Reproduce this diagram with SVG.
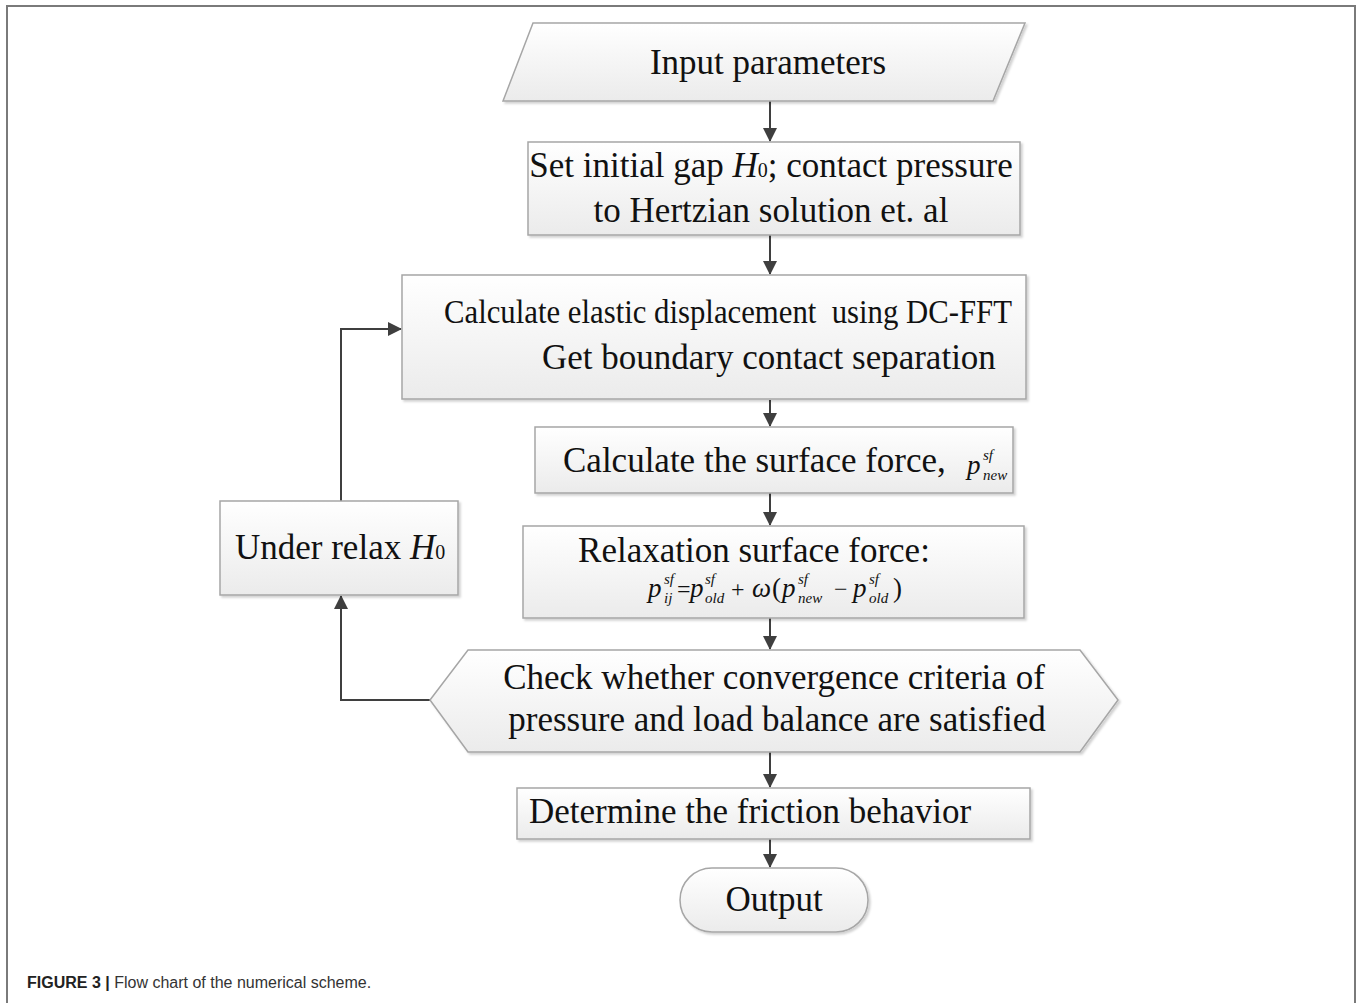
<svg xmlns="http://www.w3.org/2000/svg" width="1357" height="1003" viewBox="0 0 1357 1003">
<defs>
<linearGradient id="g" x1="0" y1="0" x2="0" y2="1">
<stop offset="0" stop-color="#ffffff"/>
<stop offset="1" stop-color="#ebebeb"/>
</linearGradient>
<marker id="ah" markerWidth="14" markerHeight="14" refX="13" refY="7" orient="auto" markerUnits="userSpaceOnUse">
<path d="M0,0 L14,7 L0,14 Z" fill="#3f3f3f"/>
</marker>
<filter id="sh" x="-5%" y="-5%" width="110%" height="120%">
<feDropShadow dx="2" dy="2" stdDeviation="1.2" flood-color="#000" flood-opacity="0.18"/>
</filter>
</defs>
<style>
.n{fill:url(#g);stroke:#a6a6a6;stroke-width:1.5;filter:url(#sh)}
.t{font-family:"Liberation Serif","Times New Roman",serif;font-size:35px;fill:#111}
.c{text-anchor:middle}
.i{font-style:italic}
.s{font-family:"Liberation Serif","Times New Roman",serif;font-style:italic;font-size:15px;fill:#111}
.m{font-family:"Liberation Serif","Times New Roman",serif;font-size:27px;fill:#111}
.o{font-family:"Liberation Serif","Times New Roman",serif;font-size:24px;fill:#111}
.e{stroke:#3f3f3f;stroke-width:2;fill:none}
.cap{font-family:"Liberation Sans",Arial,sans-serif;font-size:16px;fill:#333}
</style>
<rect width="1357" height="1003" fill="#fff"/>
<path d="M7,1003 V6 H1355 V1003" fill="none" stroke="#7a7a7a" stroke-width="2"/>

<g id="connectors">
<path class="e" d="M770,101 V141" marker-end="url(#ah)"/>
<path class="e" d="M770,235 V274" marker-end="url(#ah)"/>
<path class="e" d="M770,400 V426" marker-end="url(#ah)"/>
<path class="e" d="M770,493 V525" marker-end="url(#ah)"/>
<path class="e" d="M770,618 V649" marker-end="url(#ah)"/>
<path class="e" d="M770,752 V787" marker-end="url(#ah)"/>
<path class="e" d="M770,839 V867" marker-end="url(#ah)"/>
<path class="e" d="M430,700 H341 V596" marker-end="url(#ah)"/>
<path class="e" d="M341,501 V329 H401" marker-end="url(#ah)"/>
</g>

<g id="input">
<polygon class="n" points="533,23 1025,23 993,101 503,101"/>
<text class="t c" x="768" y="74">Input parameters</text>
</g>

<g id="init">
<rect class="n" x="528" y="142" width="492" height="93"/>
<text class="t c" x="771" y="177">Set initial gap <tspan class="i">H</tspan><tspan font-size="20">0</tspan>; contact pressure</text>
<text class="t c" x="771" y="222">to Hertzian solution et. al</text>
</g>

<g id="elastic">
<rect class="n" x="402" y="275" width="624" height="124"/>
<text class="t" x="444" y="323" style="font-size:34px" textLength="568" lengthAdjust="spacingAndGlyphs" xml:space="preserve">Calculate elastic displacement  using DC-FFT</text>
<text class="t" x="542" y="369">Get boundary contact separation</text>
</g>

<g id="surface">
<rect class="n" x="535" y="427" width="478" height="66"/>
<text class="t" x="563" y="472">Calculate the surface force,</text>
<text class="m i" x="967" y="474">p</text>
<text class="s" x="983" y="460">sf</text>
<text class="s" x="983" y="480">new</text>
</g>

<g id="relaxation">
<rect class="n" x="523" y="526" width="501" height="92"/>
<text class="t c" x="754" y="562">Relaxation surface force:</text>
<text class="m i" x="648" y="597">p</text>
<text class="s" x="664" y="584">sf</text>
<text class="s" x="664" y="603">ij</text>
<text class="o" x="677" y="597">=</text>
<text class="m i" x="690" y="597">p</text>
<text class="s" x="705" y="584">sf</text>
<text class="s" x="705" y="603">old</text>
<text class="o" x="731" y="597">+</text>
<text class="m i" x="752" y="597">ω</text>
<text class="m" x="772" y="597">(</text>
<text class="m i" x="782" y="597">p</text>
<text class="s" x="798" y="584">sf</text>
<text class="s" x="798" y="603">new</text>
<text class="o" x="834" y="597">−</text>
<text class="m i" x="853" y="597">p</text>
<text class="s" x="869" y="584">sf</text>
<text class="s" x="869" y="603">old</text>
<text class="m" x="893" y="597">)</text>
</g>

<g id="underrelax">
<rect class="n" x="220" y="501" width="238" height="94"/>
<text class="t" x="235" y="559">Under relax <tspan class="i">H</tspan><tspan font-size="20">0</tspan></text>
</g>

<g id="check">
<polygon class="n" points="430,700 468,650 1080,650 1118,700 1080,752 468,752"/>
<text class="t c" x="774" y="689">Check whether convergence criteria of</text>
<text class="t c" x="777" y="731">pressure and load balance are satisfied</text>
</g>

<g id="friction">
<rect class="n" x="517" y="788" width="513" height="51"/>
<text class="t c" x="750" y="823">Determine the friction behavior</text>
</g>

<g id="output">
<rect class="n" x="680" y="868" width="188" height="64" rx="32" ry="32"/>
<text class="t c" x="774" y="911">Output</text>
</g>

<text class="cap" x="27" y="988"><tspan font-weight="bold" fill="#222">FIGURE 3 |</tspan> Flow chart of the numerical scheme.</text>
</svg>
